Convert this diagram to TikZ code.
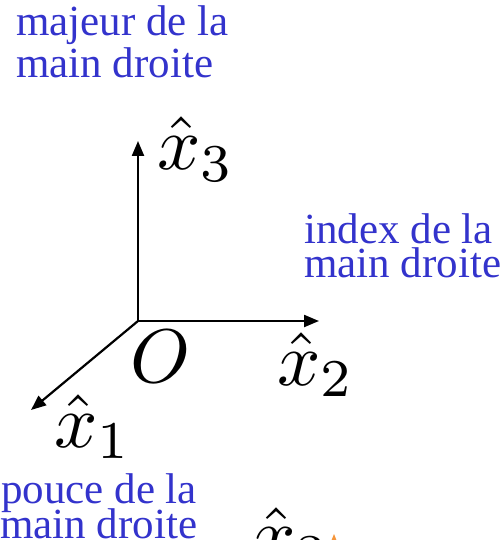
\documentclass[tikz,border=0pt]{standalone}
\usepackage{fontspec}
\usepackage{graphicx}
\newfontfamily\txtfont{Liberation Serif}
\usetikzlibrary{arrows.meta}
\definecolor{lblue}{RGB}{51,51,204}
\definecolor{torange}{RGB}{245,150,60}
\newcommand{\myBigMath}[1]{\scalebox{7.6}{$#1$}}
\begin{document}
\begin{tikzpicture}[x=1pt,y=-1pt,
  lbl/.style={anchor=base west,inner sep=0pt,text=lblue,font=\txtfont\fontsize{43}{43}\selectfont},
  mlbl/.style={anchor=base west,inner sep=0pt},
  axis/.style={line width=2.2pt,-{Triangle[length=15pt,width=12pt]}}]
\useasboundingbox (0,0) rectangle (501,540);
\clip (0,0) rectangle (501,540);
% axes
\coordinate (O) at (138,321);
\coordinate (e3) at (138,141);
\coordinate (e2) at (319,321);
\coordinate (e1) at (31,410);
\draw[axis] (O) -- (e3);
\draw[axis] (O) -- (e2);
\draw[axis] (O) -- (e1);
% math labels
\node[mlbl] (lx3) at (157,170) {\myBigMath{\hat{x}_3}};
\node[mlbl] (lx2) at (277,385) {\myBigMath{\hat{x}_2}};
\node[mlbl] (lO) at (130,382) {\myBigMath{O}};
\node[mlbl] (lx1) at (54,447) {\myBigMath{\hat{x}_1}};
\node[mlbl] (lx3b) at (252,560) {\myBigMath{\hat{x}_3}};
\fill[torange] (334,534) -- (330,544) -- (338,544) -- cycle;
% text labels
\node[lbl] (maj1) at (16,36) {majeur de la};
\node[lbl] (maj2) at (16,78) {main droite};
\node[lbl] (ind1) at (304,243) {index de la};
\node[lbl] (ind2) at (304,277) {main droite};
\node[lbl] (pou1) at (1,503) {pouce de la};
\node[lbl] (pou2) at (0,538) {main droite};
\end{tikzpicture}
\end{document}
